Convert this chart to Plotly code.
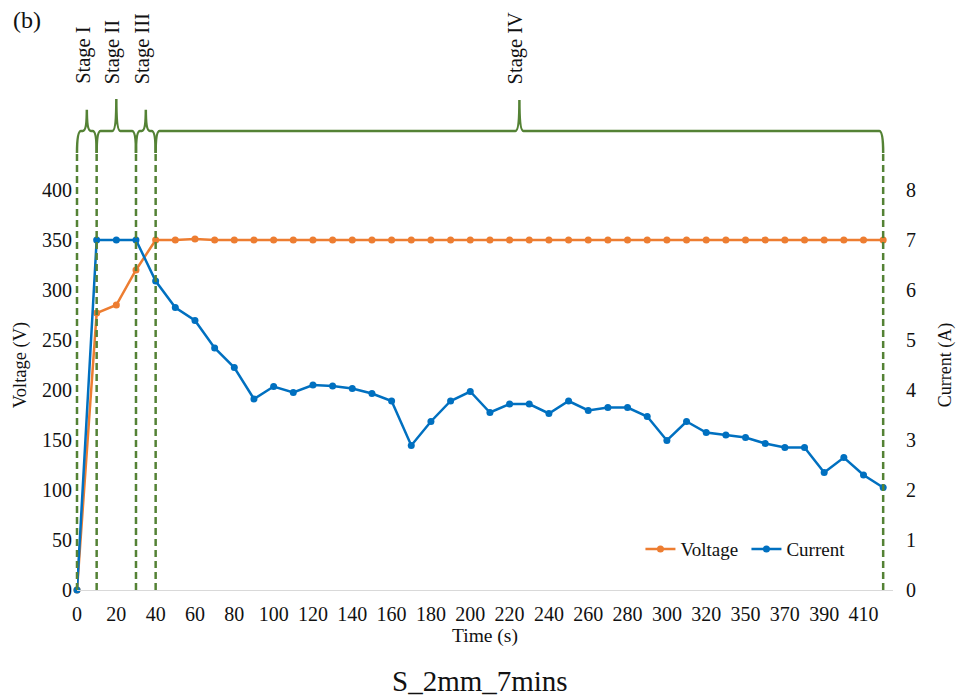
import plotly.graph_objects as go

# ---- data ----
times = [0, 10, 20, 30, 40, 50, 60, 70, 80, 90, 100, 110, 120, 130, 140, 150, 160,
         170, 180, 190, 200, 210, 220, 230, 240, 250, 260, 270, 280, 290, 300, 310,
         320, 330, 350, 360, 370, 380, 390, 400, 410, 420]
voltage = [0, 277, 285, 320, 350, 350, 351, 350, 350, 350, 350, 350, 350, 350, 350,
           350, 350, 350, 350, 350, 350, 350, 350, 350, 350, 350, 350, 350, 350, 350,
           350, 350, 350, 350, 350, 350, 350, 350, 350, 350, 350, 350]
current = [0, 7.0, 7.0, 7.0, 6.18, 5.65, 5.39, 4.84, 4.45, 3.82, 4.07, 3.95, 4.10,
           4.08, 4.03, 3.93, 3.78, 2.89, 3.37, 3.78, 3.97, 3.55, 3.72, 3.72, 3.53,
           3.78, 3.59, 3.65, 3.65, 3.47, 2.99, 3.37, 3.15, 3.10, 3.05, 2.93, 2.85,
           2.85, 2.35, 2.65, 2.30, 2.05]
x_labels = [str(t) for t in times]
tick_labels = x_labels[::2]
v_ticks = [0, 50, 100, 150, 200, 250, 300, 350, 400]
i_ticks = [0, 1, 2, 3, 4, 5, 6, 7, 8]
stage_names = ["Stage I", "Stage II", "Stage III", "Stage IV"]
stage_bounds = [0, 10, 30, 40, 420]          # seconds
stage_peaks = [1.067, 1.091, 1.067, 1.089]   # paper y of the brace tips

FONT = "Liberation Serif"
TXT = "#111"
ORANGE = "#ED7D31"
BLUE = "#0070C0"
GREEN = "#548235"

X_RANGE = [0, 41.5]
PLOT_W = 956 - 77 - 63


def to_paper(i):
    """category index -> paper x (same linear mapping as the category axis)"""
    return (i - X_RANGE[0]) / (X_RANGE[1] - X_RANGE[0])


fig = go.Figure()
fig.add_trace(go.Scatter(
    x=x_labels, y=voltage, name="Voltage", mode="lines+markers",
    line=dict(color=ORANGE, width=2.5), marker=dict(size=7, color=ORANGE),
    cliponaxis=False, yaxis="y"))
fig.add_trace(go.Scatter(
    x=x_labels, y=current, name="Current", mode="lines+markers",
    line=dict(color=BLUE, width=2.5), marker=dict(size=7, color=BLUE),
    cliponaxis=False, yaxis="y2"))

# ---- stage braces and boundaries ----
idx = [times.index(t) for t in stage_bounds]
ybot = (590 - 153) / 450
ymid = (590 - 131) / 450
c = 4 / PLOT_W
s = 4 / PLOT_W
shapes = []
annotations = []
for k, name in enumerate(stage_names):
    xa, xb = to_paper(idx[k]), to_paper(idx[k + 1])
    xm = (xa + xb) / 2
    ypk = stage_peaks[k]
    path = (f"M {xa},{ybot} Q {xa},{ymid} {xa + c},{ymid} "
            f"L {xm - s},{ymid} Q {xm},{ymid} {xm},{ypk} "
            f"Q {xm},{ymid} {xm + s},{ymid} L {xb - c},{ymid} "
            f"Q {xb},{ymid} {xb},{ybot}")
    shapes.append(dict(type="path", path=path, xref="paper", yref="paper",
                       line=dict(color=GREEN, width=2.5)))
    annotations.append(dict(x=xm, y=(590 - 86) / 450, xref="paper", yref="paper",
                            text=name, textangle=-90, showarrow=False,
                            xanchor="center", yanchor="bottom", xshift=-3,
                            font=dict(family=FONT, size=20.5, color=TXT)))
for i in idx:
    xi = to_paper(i)
    shapes.append(dict(type="line", x0=xi, x1=xi, y0=0, y1=ybot, xref="paper",
                       yref="paper", line=dict(color=GREEN, width=2.5, dash="7px,4px")))

annotations.append(dict(x=(11 - 77) / PLOT_W, y=(590 - 5) / 450, xref="paper",
                        yref="paper", text="(b)", showarrow=False, xanchor="left",
                        yanchor="top", font=dict(family=FONT, size=24, color=TXT)))
annotations.append(dict(x=(480 - 77) / PLOT_W, y=(590 - 681) / 450, xref="paper",
                        yref="paper", text="S_2mm_7mins", showarrow=False,
                        xanchor="center", yanchor="middle",
                        font=dict(family=FONT, size=29, color=TXT)))

fig.update_layout(
    width=956, height=698,
    margin=dict(l=77, r=63, t=140, b=108, autoexpand=False),
    paper_bgcolor="white", plot_bgcolor="white",
    font=dict(family=FONT, size=20, color=TXT),
    showlegend=True,
    legend=dict(orientation="h", x=0.6905, y=0.091, xanchor="left", yanchor="middle",
                bgcolor="rgba(0,0,0,0)", font=dict(family=FONT, size=19, color=TXT),
                itemwidth=30, tracegroupgap=0, entrywidth=61, entrywidthmode="pixels"),
    xaxis=dict(type="category", range=X_RANGE, tickmode="array", tickvals=tick_labels,
               ticktext=tick_labels, showgrid=False, zeroline=False, showline=True,
               linecolor="#D9D9D9", linewidth=1, ticks="", ticklabelstandoff=6,
               automargin=False,
               title=dict(text="Time (s)", font=dict(family=FONT, size=19.5), standoff=4),
               tickfont=dict(family=FONT, size=20, color=TXT)),
    yaxis=dict(range=[0, 450], tickvals=v_ticks, showgrid=False, zeroline=False,
               showline=False, ticks="", ticklabelstandoff=4, automargin=False,
               title=dict(text="Voltage (V)", font=dict(family=FONT, size=18.5), standoff=10),
               tickfont=dict(family=FONT, size=20, color=TXT)),
    yaxis2=dict(range=[0, 9], tickvals=i_ticks, overlaying="y", side="right",
                showgrid=False, zeroline=False, showline=False, ticks="",
                ticklabelstandoff=12, automargin=False,
                title=dict(text="Current (A)", font=dict(family=FONT, size=18), standoff=24),
                tickfont=dict(family=FONT, size=20, color=TXT)),
    shapes=shapes, annotations=annotations,
)

fig.write_html("out.html")
